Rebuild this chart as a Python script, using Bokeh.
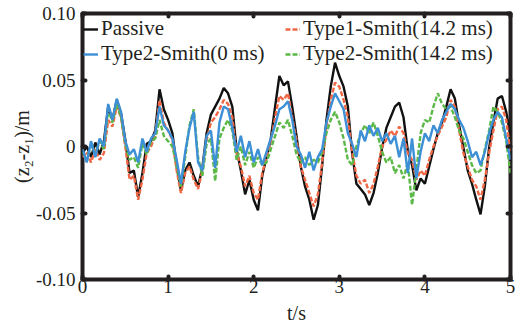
import numpy as np
from bokeh.plotting import figure
from bokeh.models import Range1d, LinearAxis, FixedTicker, Legend, LegendItem, CustomJSTickFormatter
from bokeh.embed import file_html
from bokeh.resources import INLINE

# time grid (s)
t = [round(0.05 * i, 2) for i in range(101)]

passive = [-0.005, 0.000, -0.008, 0.003, -0.006, 0.004, 0.030, 0.020, 0.035, 0.025,
           0.005, -0.020, -0.018, -0.038, -0.020, 0.002, 0.004, 0.012, 0.043, 0.028,
           0.020, 0.010, -0.015, -0.033, -0.018, -0.012, -0.022, -0.030, -0.016, 0.010,
           0.024, 0.030, 0.036, 0.044, 0.040, 0.030, -0.002, -0.018, -0.036, -0.025,
           -0.040, -0.048, -0.022, -0.008, 0.006, 0.030, 0.053, 0.046, 0.049, 0.030,
           0.008, -0.015, -0.030, -0.040, -0.055, -0.044, -0.014, 0.020, 0.045, 0.063,
           0.053, 0.045, 0.030, -0.005, -0.028, -0.032, -0.036, -0.044, -0.035, -0.020,
           -0.001, 0.014, 0.022, 0.030, 0.033, 0.022, -0.003, -0.014, -0.033, -0.024,
           -0.028, -0.015, -0.002, 0.010, 0.018, 0.030, 0.043, 0.036, 0.016, -0.001,
           -0.018, -0.028, -0.040, -0.051, -0.030, -0.001, 0.018, 0.036, 0.038, 0.026,
           0.008]

type1_142 = [-0.008, -0.004, -0.012, -0.002, -0.010, -0.005, 0.020, 0.015, 0.030, 0.022,
             0.000, -0.025, -0.022, -0.040, -0.025, -0.005, 0.000, 0.008, 0.035, 0.018,
             0.012, 0.005, -0.018, -0.035, -0.020, -0.015, -0.025, -0.032, -0.018, 0.005,
             0.018, 0.022, 0.028, 0.035, 0.032, 0.022, -0.005, -0.015, -0.030, -0.022,
             -0.035, -0.040, -0.020, -0.008, 0.004, 0.022, 0.038, 0.035, 0.040, 0.022,
             0.005, -0.015, -0.025, -0.035, -0.045, -0.036, -0.012, 0.015, 0.035, 0.048,
             0.045, 0.035, 0.022, -0.004, -0.022, -0.028, -0.025, -0.035, -0.028, -0.015,
             0.000, 0.005, 0.012, 0.008, 0.015, 0.010, -0.005, -0.010, -0.025, -0.018,
             -0.022, -0.010, 0.000, 0.008, 0.015, 0.022, 0.035, 0.030, 0.012, -0.005,
             -0.015, -0.025, -0.030, -0.040, -0.025, -0.005, 0.012, 0.028, 0.030, 0.020,
             -0.005]

type2_0 = [-0.002, -0.012, 0.004, -0.008, 0.006, 0.000, 0.032, 0.020, 0.036, 0.026,
           0.004, -0.006, -0.002, -0.012, 0.006, -0.004, 0.006, 0.010, 0.030, 0.016,
           0.012, 0.006, -0.010, -0.028, -0.004, 0.014, 0.026, -0.012, -0.018, 0.008,
           0.012, -0.016, 0.018, 0.030, 0.028, 0.014, -0.004, 0.008, -0.008, 0.004,
           -0.012, -0.002, -0.014, -0.004, 0.006, 0.016, 0.028, 0.030, 0.034, 0.020,
           0.000, -0.006, -0.016, -0.004, -0.018, -0.008, -0.002, 0.018, 0.030, 0.040,
           0.034, 0.028, 0.010, 0.002, -0.008, 0.012, 0.004, 0.016, 0.008, 0.014,
           0.004, 0.010, 0.002, 0.008, -0.008, 0.006, -0.020, 0.006, -0.024, -0.004,
           0.010, 0.004, 0.016, 0.010, 0.020, 0.026, 0.032, 0.028, 0.020, 0.014,
           0.004, -0.008, -0.004, -0.014, -0.004, 0.010, 0.020, 0.026, 0.022, 0.006,
           -0.010]

type2_142 = [-0.004, -0.010, 0.002, -0.006, 0.004, -0.002, 0.028, 0.018, 0.032, 0.022,
             0.002, -0.010, -0.008, -0.016, 0.002, -0.006, 0.004, 0.006, 0.020, 0.008,
             0.004, 0.000, -0.014, -0.030, -0.008, 0.016, 0.028, -0.008, -0.022, 0.002,
             0.006, -0.026, 0.006, 0.014, 0.020, 0.012, -0.010, 0.000, -0.014, -0.004,
             -0.016, -0.008, -0.014, -0.012, -0.002, 0.008, 0.018, 0.014, 0.020, 0.008,
             -0.006, -0.012, -0.008, -0.014, -0.010, -0.012, -0.004, 0.010, 0.020, 0.026,
             0.018, 0.006, -0.010, -0.014, 0.000, 0.010, 0.016, 0.010, 0.018, 0.008,
             -0.004, -0.012, -0.008, -0.020, -0.014, -0.024, -0.012, -0.044, -0.018, 0.010,
             0.020, 0.018, 0.030, 0.040, 0.032, 0.028, 0.030, 0.022, 0.012, 0.006,
             -0.004, -0.014, -0.020, -0.018, -0.002, 0.012, 0.030, 0.026, 0.018, 0.004,
             -0.020]

x_ticks = [0, 1, 2, 3, 4, 5]
y_ticks = [-0.10, -0.05, 0.0, 0.05, 0.10]
y_tick_labels = ["-0.10", "-0.05", "0", "0.05", "0.10"]

series_names = ["Passive", "Type1-Smith(14.2 ms)", "Type2-Smith(0 ms)", "Type2-Smith(14.2 ms)"]
colors = ["#111111", "#EF6744", "#3D8FD6", "#5CB947"]

FONT = "Liberation Serif"
INK = "#231F20"

p = figure(width=517, height=326, x_range=Range1d(0, 5), y_range=Range1d(-0.1, 0.1),
           output_backend="svg", toolbar_location=None,
           min_border_left=82, min_border_right=7, min_border_top=13, min_border_bottom=43)
p.xgrid.visible = False
p.ygrid.visible = False
p.outline_line_color = INK
p.outline_line_width = 4
p.background_fill_color = "white"
p.border_fill_color = "white"

r_pas = p.line(t, passive, color=colors[0], line_width=2.4)
r_t1 = p.line(t, type1_142, color=colors[1], line_width=2.4, line_dash="5 2")
r_t2b = p.line(t, type2_142, color=colors[3], line_width=2.4, line_dash="5 2")
r_t2 = p.line(t, type2_0, color=colors[2], line_width=2.4)


def style_axis(ax, show_labels):
    ax.axis_line_color = None
    ax.major_tick_in = 3
    ax.major_tick_out = 0
    ax.major_tick_line_width = 4
    ax.major_tick_line_color = INK
    ax.major_tick_line_cap = "round"
    ax.minor_tick_line_color = None
    ax.major_label_text_font = FONT
    if show_labels:
        ax.major_label_text_font_size = "19px"
        ax.major_label_text_color = INK
    else:
        ax.formatter = CustomJSTickFormatter(code="return ''")
        ax.major_label_text_font_size = "0px"
        ax.major_label_text_color = None
        ax.major_label_standoff = 0


xa = p.below[0]
xa.ticker = FixedTicker(ticks=x_ticks)
style_axis(xa, True)
xa.major_label_standoff = 0
xa.major_label_text_line_height = 0.7
xa.axis_label = "t/s"
xa.axis_label_text_font = FONT
xa.axis_label_text_font_style = "normal"
xa.axis_label_text_font_size = "20px"
xa.axis_label_text_color = INK
xa.axis_label_text_line_height = 0.7
xa.axis_label_standoff = 6

ya = p.left[0]
ya.ticker = FixedTicker(ticks=y_ticks)
ya.major_label_overrides = {v: s for v, s in zip(y_ticks, y_tick_labels)}
style_axis(ya, True)
ya.major_label_standoff = 7
ya.axis_label = "(z\u2082-z\u2081)/m"
ya.axis_label_text_font = FONT
ya.axis_label_text_font_style = "normal"
ya.axis_label_text_font_size = "20px"
ya.axis_label_text_color = INK
ya.axis_label_standoff = 0

top = LinearAxis(ticker=FixedTicker(ticks=x_ticks))
style_axis(top, False)
p.add_layout(top, "above")
right = LinearAxis(ticker=FixedTicker(ticks=y_ticks))
style_axis(right, False)
p.add_layout(right, "right")

legend_style = dict(orientation="vertical", margin=0, padding=0, spacing=-13,
                    label_height=20, glyph_height=20, glyph_width=15, label_standoff=3,
                    label_text_font=FONT, label_text_font_size="21px", label_text_color=INK,
                    background_fill_alpha=0, border_line_color=None)
legend_a = Legend(items=[LegendItem(label=series_names[0], renderers=[r_pas]),
                         LegendItem(label=series_names[2], renderers=[r_t2])],
                  location=(1, 213), **legend_style)
legend_b = Legend(items=[LegendItem(label=series_names[1], renderers=[r_t1]),
                         LegendItem(label=series_names[3], renderers=[r_t2b])],
                  location=(203, 213), **legend_style)
p.add_layout(legend_a, "center")
p.add_layout(legend_b, "center")

open("out.html", "w").write(file_html(p, INLINE))
